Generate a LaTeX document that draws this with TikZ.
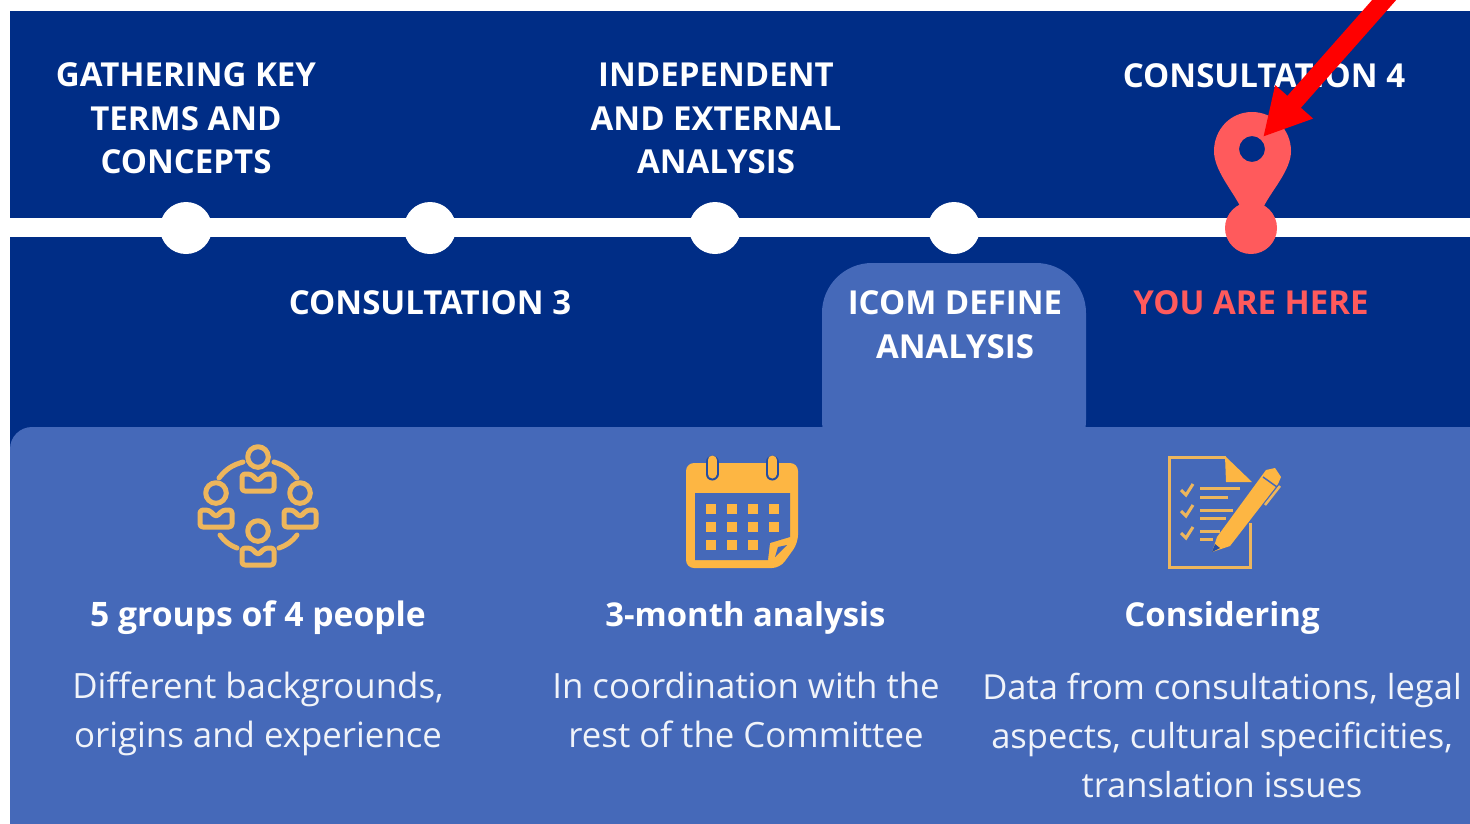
\documentclass[tikz,border=0pt]{standalone}
\usepackage{fontspec}
\setmainfont{Open Sans}
\usetikzlibrary{arrows.meta}
\definecolor{navy}{HTML}{002D86}
\definecolor{panel}{HTML}{4569B9}
\definecolor{gold}{HTML}{FDB643}
\definecolor{tan}{HTML}{EDB65C}
\definecolor{pinred}{HTML}{FF5A5C}
\tikzset{
  x=1pt,y=-1pt,
  head/.style={text=white,font=\fontsize{33}{43.5}\selectfont\bfseries,align=center,inner sep=0pt},
  sub/.style={text=white,font=\fontsize{33}{40}\selectfont\bfseries,align=center,inner sep=0pt},
  body/.style={text=white!92!panel,font=\fontsize{34.5}{49}\selectfont,align=center,inner sep=0pt},
  stop/.style={circle,fill=white,minimum size=52pt,inner sep=0pt},
  ppl/.style={draw=tan,line width=5pt,line cap=round,line join=round},
  docline/.style={draw=tan,line width=3pt},
  cal/.style={fill=gold},
  pics/person/.style={code={
    \draw[ppl] (0,0) circle[radius=10.3];
    \draw[ppl,rounded corners=3pt] (-16,17) -- (-7,17) -- (0,24) -- (7,17) -- (16,17) -- (16,34) -- (-16,34) -- cycle;
  }},
}
\begin{document}
\begin{tikzpicture}
\clip (0,0) rectangle (1470,823);
\useasboundingbox (0,0) rectangle (1470,823);
\fill[white] (0,0) rectangle (1470,823);
\fill[navy] (10,11) rectangle (1475,830);
% panel with tab
\fill[panel,rounded corners=22pt] (10,860) -- (10,427) -- (500,427) -- (500,860) -- cycle;
\fill[panel] (30,427) rectangle (1475,830);
\fill[panel,rounded corners=50pt] (822,470) -- (822,263) -- (1086,263) -- (1086,470) -- cycle;
% timeline
\fill[white] (10,218) rectangle (1475,237);
\node[stop] (s1) at (186,228) {};
\node[stop] (s2) at (430,228) {};
\node[stop] (s3) at (715,228) {};
\node[stop] (s4) at (954,228) {};
\node[circle,fill=pinred,minimum size=52pt,inner sep=0pt] (s5) at (1251,228) {};
% map pin
\fill[pinred,even odd rule] (1252,112) .. controls (1274,112) and (1291,130) .. (1291,151)
  .. controls (1291,170) and (1272,190) .. (1264,206) -- (1240,206)
  .. controls (1232,190) and (1214,170) .. (1214,151)
  .. controls (1214,130) and (1230,112) .. (1252,112) -- cycle
  (1265,149) .. controls (1265,142) and (1259,136) .. (1252,136)
  .. controls (1245,136) and (1239,142) .. (1239,149)
  .. controls (1239,156) and (1245,162) .. (1252,162)
  .. controls (1259,162) and (1265,156) .. (1265,149) -- cycle;
% headings
\node[head] (t1) at (186,118.5) {GATHERING KEY\\TERMS AND\\CONCEPTS};
\node[head] (t2) at (716,118.5) {INDEPENDENT\\AND EXTERNAL\\ANALYSIS};
\node[head] (t3) at (1264,76) {CONSULTATION 4};
\node[head] (t4) at (430,303) {CONSULTATION 3};
\node[head] (t5) at (955,324.5) {ICOM DEFINE\\ANALYSIS};
\node[head,text=pinred] (t6) at (1251,303) {YOU ARE HERE};
% column texts
\node[sub,font=\fontsize{33.7}{40}\selectfont\bfseries] (c1) at (258,618) {5 groups of 4 people};
\node[sub,font=\fontsize{32.8}{40}\selectfont\bfseries] (c2) at (745.5,618) {3-month analysis};
\node[sub] (c3) at (1222,618) {Considering};
\node[body,font=\fontsize{34.8}{49}\selectfont] (d1) at (258,714) {Different backgrounds,\\origins and experience};
\node[body,font=\fontsize{34.8}{49}\selectfont] (d2) at (746,710) {In coordination with the\\rest of the Committee};
\node[body] (d3) at (1222,735) {Data from consultations, legal\\aspects, cultural specificities,\\translation issues};
% people icon
\pic at (258,457) {person};
\pic at (216,493) {person};
\pic at (300,493) {person};
\pic at (258,531) {person};
\draw[ppl] (219,478) to[bend left=18] (243,462);
\draw[ppl] (274,462) to[bend left=18] (297,478);
\draw[ppl] (220,535) to[bend right=16] (237,548);
\draw[ppl] (279,548) to[bend right=16] (297,535);
% calendar icon
\fill[cal,rounded corners=8pt] (686,463) -- (798,463) -- (798,543) -- (780,568) -- (686,568) -- cycle;
\fill[panel] (695,493) -- (790,493) -- (790,537) -- (770,543) -- (768,560) -- (695,560) -- cycle;
\fill[panel] (775,557) -- (787,545) -- (778,547) -- cycle;
\foreach \cx in {712,772}{
  \draw[panel!55!navy,line width=13pt,line cap=round] (\cx,462) -- (\cx,474);
  \draw[gold,line width=9pt,line cap=round] (\cx,460) -- (\cx,474);
}
\foreach \cx in {711,732,753,774}\foreach \cy in {509,527}
  \fill[cal] (\cx-5,\cy-5) rectangle (\cx+5,\cy+5);
\foreach \cx in {711,732,753}
  \fill[cal] (\cx-5,545-5) rectangle (\cx+5,545+5);
% document icon
\draw[docline] (1226,457) -- (1169,457) -- (1169,567) -- (1250,567) -- (1250,523);
\fill[cal] (1225,456) -- (1252,482) -- (1226,482) -- cycle;
\foreach \cy in {490,511,533}
  \draw[draw=tan,line width=3pt] (1181,\cy) -- (1186,\cy+5) -- (1193,\cy-6);
\foreach \ax/\ay in {1240/488,1228/497,1233/510,1226/518,1220/531,1213/539}
  \draw[docline] (1200,\ay) -- (\ax,\ay);
\fill[gold] (1212,552) -- (1217,537) -- (1266,470) -- (1275,468) -- (1281,477) -- (1278,484) -- (1230,546) -- cycle;
\fill[panel!55!navy] (1212,552) -- (1215,544) -- (1220,548) -- cycle;
\draw[panel,line width=1.5pt] (1263,477) -- (1277,487);
\draw[docline,line width=2.5pt] (1280,486) -- (1265,505);
% red arrow
\coordinate (arrowstart) at (1393,-10);
\coordinate (arrowtip) at (1263,137);
\draw[red,line width=18pt,-{Triangle[length=47pt,width=47pt]}] (arrowstart) -- (arrowtip);
\end{tikzpicture}
\end{document}
